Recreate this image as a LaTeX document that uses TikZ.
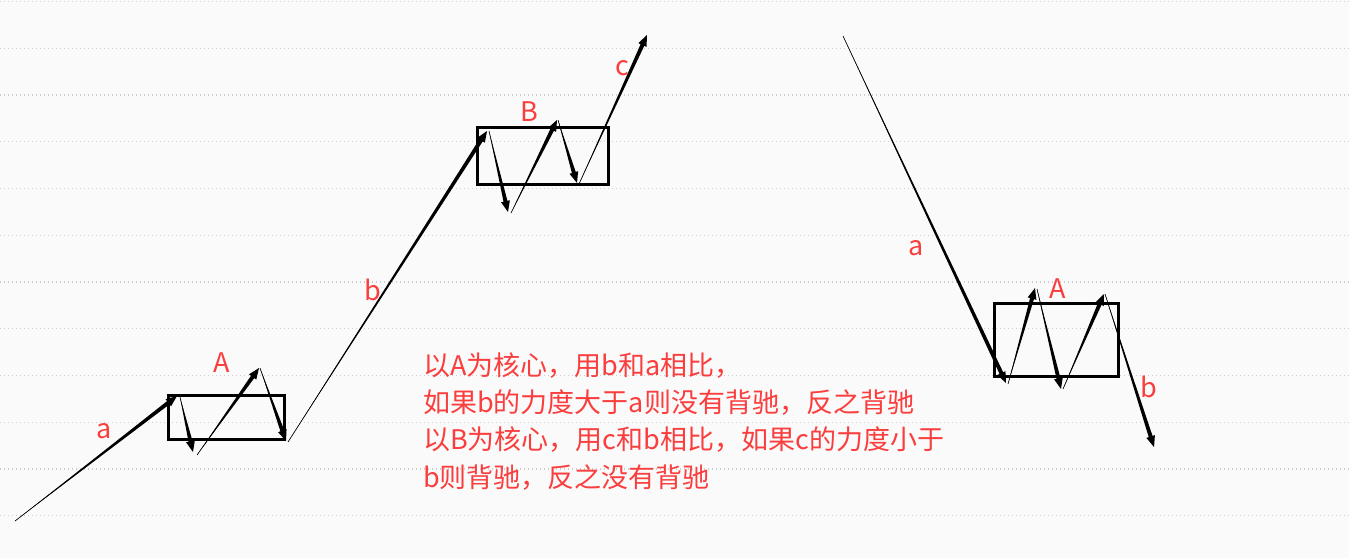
\documentclass[tikz,border=0pt]{standalone}
\usepackage{fontspec}
\setmainfont{Noto Sans CJK SC}
\usetikzlibrary{calc}
\definecolor{bgc}{RGB}{250,250,250}
\definecolor{gridc}{RGB}{205,205,205}
\definecolor{lblc}{RGB}{250,62,62}
\newcommand\tarr[2]{%
  \coordinate (tb) at ($(#2)!11pt!(#1)$);
  \fill[black] (#1) -- ($(tb)!2pt!90:(#2)$) -- ($(tb)!4.5pt!90:(#2)$) -- (#2)
     -- ($(tb)!4.5pt!-90:(#2)$) -- ($(tb)!2pt!-90:(#2)$) -- cycle;
  \draw[black,line width=0.6pt] (#1) -- (tb);
}
\begin{document}
\begin{tikzpicture}[x=1pt,y=-1pt,
  lab/.style={text=lblc,font=\fontsize{27}{31}\selectfont,inner sep=0pt},
  txt/.style={text=lblc,font=\fontsize{27}{31}\selectfont,inner sep=0pt,anchor=base west},
  box/.style={draw=black,line width=3pt},
  gridline/.style={draw=gridc,line width=1.2pt,dash pattern=on 1.2pt off 2.8pt}]
\fill[bgc] (0,0) rectangle (1349,558);
\useasboundingbox (0,0) rectangle (1349,558);
\foreach \k in {0,...,11} \draw[gridline] (0,{1.5+46.75*\k}) -- (1349,{1.5+46.75*\k});

% boxes
\draw[box] (168,395) rectangle (284,439);
\draw[box] (477,127) rectangle (608,184);
\draw[box] (994,303) rectangle (1118,376);

% left diagram coordinates
\coordinate (L0) at (15,521);   \coordinate (L1) at (177,396);
\coordinate (L1s) at (180,397); \coordinate (L2) at (193,452);
\coordinate (L2s) at (197,455); \coordinate (L3) at (259,368);
\coordinate (L3s) at (260,368); \coordinate (L4) at (286,441);
\coordinate (L4s) at (288,442); \coordinate (L5) at (487,131);
\coordinate (L5s) at (489,131); \coordinate (L6) at (508,212);
\coordinate (L6s) at (511,213); \coordinate (L7) at (557,120);
\coordinate (L7s) at (558,120); \coordinate (L8) at (577,183);
\coordinate (L8s) at (579,184); \coordinate (L9) at (647,35);
\tarr{L0}{L1}
\tarr{L1s}{L2}
\tarr{L2s}{L3}
\tarr{L3s}{L4}
\tarr{L4s}{L5}
\tarr{L5s}{L6}
\tarr{L6s}{L7}
\tarr{L7s}{L8}
\tarr{L8s}{L9}

% right diagram coordinates
\coordinate (R0) at (843,36);    \coordinate (R1) at (1006,383);
\coordinate (R1s) at (1008,384); \coordinate (R2) at (1035,288);
\coordinate (R2s) at (1037,289); \coordinate (R3) at (1061,389);
\coordinate (R3s) at (1063,389); \coordinate (R4) at (1104,294);
\coordinate (R4s) at (1105,294); \coordinate (R5) at (1154,447);
\tarr{R0}{R1}
\tarr{R1s}{R2}
\tarr{R2s}{R3}
\tarr{R3s}{R4}
\tarr{R4s}{R5}

% labels
\node[lab] (la) at (104,431) {a};
\node[lab] (lA) at (222,363) {A};
\node[lab] (lb) at (373,290) {b};
\node[lab] (lB) at (529,112) {B};
\node[lab] (lc) at (622,68) {c};
\node[lab] (ra) at (916,248) {a};
\node[lab] (rA) at (1058,289) {A};
\node[lab] (rb) at (1149,387) {b};

% text
\node[txt] (t1) at (423,375) {以A为核心，用b和a相比，};
\node[txt] (t2) at (423,412.3) {如果b的力度大于a则没有背驰，反之背驰};
\node[txt] (t3) at (423,449.7) {以B为核心，用c和b相比，如果c的力度小于};
\node[txt] (t4) at (423,487) {b则背驰，反之没有背驰};
\end{tikzpicture}
\end{document}
